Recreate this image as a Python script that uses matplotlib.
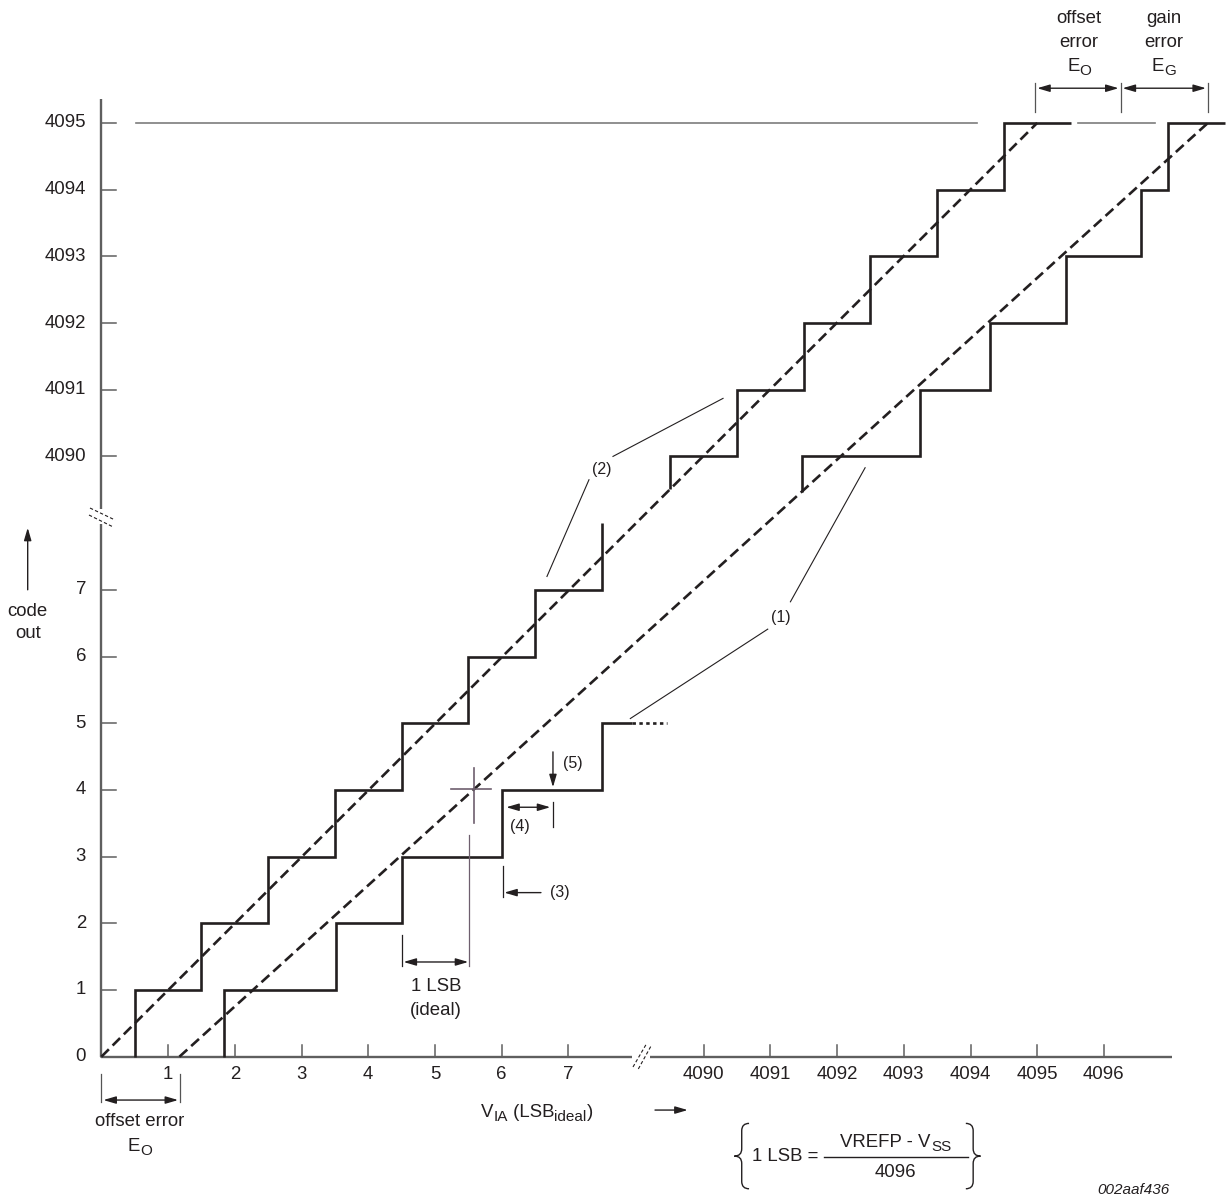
import numpy as np
import matplotlib
matplotlib.use("Agg")
import matplotlib.pyplot as plt
from matplotlib.path import Path
from matplotlib.patches import PathPatch
from matplotlib.transforms import ScaledTranslation

# ---------------- data (LSB input, output code) ----------------
y_ticks_low = [0, 1, 2, 3, 4, 5, 6, 7]
y_ticks_high = [4090, 4091, 4092, 4093, 4094, 4095]
x_ticks_low = [1, 2, 3, 4, 5, 6, 7]
x_ticks_high = [4090, 4091, 4092, 4093, 4094, 4095, 4096]

# ideal transfer curve (2)
ideal_trans_low = [0.5, 1.5, 2.5, 3.5, 4.5, 5.5, 6.5, 7.5]
ideal_levels_low = [1, 2, 3, 4, 5, 6, 7, 8.0]
ideal_trans_high = [4089.5, 4090.5, 4091.5, 4092.5, 4093.5, 4094.5]
ideal_levels_high = [4090, 4091, 4092, 4093, 4094, 4095]
ideal_end_high = 4095.5

# actual transfer curve (1)
actual_trans_low = [1.84, 3.52, 4.5, 6.0, 7.5]
actual_levels_low = [1, 2, 3, 4, 5]
actual_end_low = 7.95
actual_dotted_end = 8.48
actual_trans_high = [4091.47, 4093.24, 4094.29, 4095.43, 4096.56, 4096.96]
actual_levels_high = [4090, 4091, 4092, 4093, 4094, 4095]
actual_end_high = 4097.82

# straight dashed reference lines (start, end) in (LSB, code)
ideal_line = [(0.0, 0.0), (4095.0, 4095.0)]
actual_line = [(1.17, 0.0), (4097.56, 4095.0)]

# ---------------- axis-break transform ----------------
XOFF = 4080.97
YOFF = 4081.0


def ux(x):
    x = np.asarray(x, dtype=float)
    return np.where(x > 1000, x - XOFF, x)


def vy(c):
    c = np.asarray(c, dtype=float)
    return np.where(c > 1000, c - YOFF, c)


plt.rcParams['font.family'] = ['Liberation Sans', 'DejaVu Sans']

S = 66.7
X0, Y0 = 101.4, 1056.7
W, H = 1228, 1201
DPI = 100
fig = plt.figure(figsize=(W / DPI, H / DPI), dpi=DPI)
ax = fig.add_axes([0, 0, 1, 1])
ax.set_xlim(-X0 / S, (W - X0) / S)
ax.set_ylim((Y0 - H) / S, Y0 / S)
ax.axis('off')

INK = '#231f20'
AXC = '#5f5f5f'
FS = 13.4
FSS = 11.5

# ---------------- axes ----------------
ax.plot([0, 0], [0, 7.99], color=AXC, lw=1.7, solid_capstyle='butt')
ax.plot([0, 0], [8.21, 14.36], color=AXC, lw=1.7, solid_capstyle='butt')
ax.plot([0, 7.95], [0, 0], color=AXC, lw=1.7, solid_capstyle='butt')
ax.plot([8.22, 16.05], [0, 0], color=AXC, lw=1.7, solid_capstyle='butt')
# break marks
for (a, b) in [((-0.171, 8.226), (0.205, 8.046)), ((-0.186, 8.121), (0.169, 7.946))]:
    ax.plot([a[0], b[0]], [a[1], b[1]], color=INK, lw=0.8, ls=(0, (3, 2)))
for (a, b) in [((7.97, -0.154), (8.17, 0.19)), ((8.05, -0.184), (8.24, 0.16))]:
    ax.plot([a[0], b[0]], [a[1], b[1]], color=INK, lw=0.8, ls=(0, (3, 2)))

# y ticks
for c in y_ticks_low + y_ticks_high:
    v = float(vy(c))
    ax.plot([0, 0.225], [v, v], color=AXC, lw=1.1)
    ax.text(-0.23, v, str(c), ha='right', va='center', fontsize=FS, color=INK)
# x ticks
for x in x_ticks_low + x_ticks_high:
    u = float(ux(x))
    ax.plot([u, u], [0, 0.18], color=AXC, lw=1.1)
    ax.text(u, -0.27, str(x), ha='center', va='center', fontsize=FS, color=INK)

# ---------------- reference line at code 4095 ----------------
v95 = float(vy(4095))
ax.plot([0.52, 13.13], [v95, v95], color='#7d7d7d', lw=1.2)
ax.plot([14.64, 15.8], [v95, v95], color='#7d7d7d', lw=1.2)


# ---------------- dashed straight lines ----------------
def line_pts(ln):
    (x1, c1), (x2, c2) = ln
    return [float(ux(x1)), float(ux(x2))], [float(vy(c1)), float(vy(c2))]


def line_v(ln, u):
    us, vs = line_pts(ln)
    return vs[0] + (vs[1] - vs[0]) * (u - us[0]) / (us[1] - us[0])


for ln in (ideal_line, actual_line):
    us, vs = line_pts(ln)
    ax.plot(us, vs, color=INK, lw=1.9, ls=(0, (4, 2)), dash_capstyle='butt')


# ---------------- staircases ----------------
def stair(trans, levels, start_level, end_x):
    t = [float(a) for a in ux(trans)]
    L = [float(a) for a in vy(levels)]
    xs, ys = [t[0]], [start_level]
    for i in range(len(t)):
        xs.append(t[i]); ys.append(L[i])
        if i + 1 < len(t):
            xs.append(t[i + 1]); ys.append(L[i])
    if end_x is not None:
        xs.append(float(ux(end_x))); ys.append(L[-1])
    ax.plot(xs, ys, color=INK, lw=1.9, solid_joinstyle='miter', solid_capstyle='butt')


stair(ideal_trans_low, ideal_levels_low, 0.0, None)
stair(actual_trans_low, actual_levels_low, 0.0, actual_end_low)
ax.plot([float(ux(actual_end_low)), float(ux(actual_dotted_end))],
        [float(vy(actual_levels_low[-1]))] * 2, color=INK, lw=1.9, ls=(0, (1.3, 1.3)))
stair(ideal_trans_high, ideal_levels_high,
      line_v(ideal_line, float(ux(ideal_trans_high[0]))), ideal_end_high)
stair(actual_trans_high, actual_levels_high,
      line_v(actual_line, float(ux(actual_trans_high[0]))), actual_end_high)

# ---------------- annotations ----------------
AP = dict(color=INK, lw=1.0, shrinkA=0, shrinkB=0, mutation_scale=10)


def arrow(p_from, p_to, style='-|>'):
    ax.annotate('', xy=p_to, xytext=p_from,
                arrowprops=dict(arrowstyle=style + ',head_length=0.75,head_width=0.22', **AP))


def seg(p, q, lw=0.9, color=INK):
    ax.plot([p[0], q[0]], [p[1], q[1]], color=color, lw=lw)


renderer = fig.canvas.get_renderer()


def rich(x, yc, pieces, fs=FS, sub_scale=0.82, sub_drop=4.0):
    """Text with real subscripts, centred horizontally at x, cap-centred at yc."""
    yb = yc - 0.1
    items = []
    for s, is_sub in pieces:
        size = fs * sub_scale if is_sub else fs
        t = ax.text(x, yb, s, fontsize=size, ha='left', va='baseline', color=INK)
        w = t.get_window_extent(renderer).width
        items.append((t, w, is_sub))
    total = sum(w for _, w, _ in items)
    cur = -total / 2
    for t, w, is_sub in items:
        dy = -sub_drop if is_sub else 0.0
        t.set_transform(ax.transData + ScaledTranslation(cur / DPI, dy / DPI, fig.dpi_scale_trans))
        cur += w


# top: offset error / gain error
for u in (13.995, 15.28, 16.59):
    seg((u, 14.16), (u, 14.6), lw=0.9, color='#555555')
arrow((14.03, 14.52), (15.25, 14.52), '<|-|>')
arrow((15.31, 14.52), (16.56, 14.52), '<|-|>')
ax.text(14.66, 15.56, 'offset', ha='center', va='center', fontsize=FS, color=INK)
ax.text(14.66, 15.21, 'error', ha='center', va='center', fontsize=FS, color=INK)
rich(14.66, 14.88, [('E', False), ('O', True)])
ax.text(15.93, 15.56, 'gain', ha='center', va='center', fontsize=FS, color=INK)
ax.text(15.93, 15.21, 'error', ha='center', va='center', fontsize=FS, color=INK)
rich(15.93, 14.88, [('E', False), ('G', True)])

# bottom-left offset error
seg((0.0, -0.26), (0.0, -0.68), color='#555555')
seg((1.18, -0.26), (1.18, -0.68), color='#555555')
arrow((0.03, -0.65), (1.15, -0.65), '<|-|>')
ax.text(0.58, -0.975, 'offset error', ha='center', va='center', fontsize=FS, color=INK)
rich(0.58, -1.32, [('E', False), ('O', True)])

# code out
arrow((-1.105, 7.0), (-1.105, 7.93))
ax.text(-1.105, 6.67, 'code', ha='center', va='center', fontsize=FS, color=INK)
ax.text(-1.105, 6.35, 'out', ha='center', va='center', fontsize=FS, color=INK)

# V_IA label
rich(6.53, -0.8, [('V', False), ('IA', True), (' (LSB', False), ('ideal', True), (')', False)])
arrow((8.30, -0.8), (8.79, -0.8))

# crosshair at step centre
CH = '#6e5f6e'
seg((5.24, 4.01), (5.84, 4.01), lw=1.2, color=CH)
seg((5.59, 4.33), (5.59, 3.50), lw=1.2, color=CH)
seg((5.51, 3.32), (5.51, 1.36), lw=0.9, color=CH)

# 1 LSB (ideal)
seg((4.51, 1.82), (4.51, 1.36))
arrow((4.53, 1.42), (5.50, 1.42), '<|-|>')
ax.text(5.02, 1.05, '1 LSB', ha='center', va='center', fontsize=FS, color=INK)
ax.text(5.02, 0.70, '(ideal)', ha='center', va='center', fontsize=FS, color=INK)

# (5)
arrow((6.77, 4.57), (6.77, 4.04))
ax.text(7.07, 4.40, '(5)', ha='center', va='center', fontsize=FSS, color=INK)
# (4)
arrow((6.07, 3.74), (6.73, 3.74), '<|-|>')
seg((6.77, 3.82), (6.77, 3.45))
ax.text(6.28, 3.45, '(4)', ha='center', va='center', fontsize=FSS, color=INK)
# (3)
seg((6.02, 2.86), (6.02, 2.39))
arrow((6.59, 2.46), (6.04, 2.46))
ax.text(6.87, 2.46, '(3)', ha='center', va='center', fontsize=FSS, color=INK)
# (2)
ax.text(7.50, 8.81, '(2)', ha='center', va='center', fontsize=FSS, color=INK)
seg((7.67, 9.0), (9.32, 9.87), lw=0.8)
seg((7.31, 8.65), (6.68, 7.20), lw=0.8)
# (1)
ax.text(10.19, 6.58, '(1)', ha='center', va='center', fontsize=FSS, color=INK)
seg((10.33, 6.82), (11.45, 8.83), lw=0.8)
seg((9.99, 6.41), (7.93, 5.07), lw=0.8)


# ---------------- formula ----------------
def brace(xc, yc, h, w, left=True):
    s = 1 if left else -1
    x0 = xc
    xe = xc + s * w / 2
    xt = xc - s * w / 2
    top, bot, r = yc + h / 2, yc - h / 2, w / 2
    verts = [(xe, top), (x0, top), (x0, top - r), (x0, yc + r), (x0, yc), (xt, yc),
             (x0, yc), (x0, yc - r), (x0, bot + r), (x0, bot), (xe, bot)]
    codes = [Path.MOVETO, Path.CURVE3, Path.CURVE3, Path.LINETO, Path.CURVE3, Path.CURVE3,
             Path.CURVE3, Path.CURVE3, Path.LINETO, Path.CURVE3, Path.CURVE3]
    ax.add_patch(PathPatch(Path(verts, codes), fill=False, edgecolor=INK, lw=1.0))


brace(9.6, -1.49, 0.98, 0.22, left=True)
brace(13.07, -1.49, 0.98, 0.22, left=False)
ax.text(10.25, -1.49, '1 LSB =', ha='center', va='center', fontsize=FS, color=INK)
seg((10.83, -1.50), (12.99, -1.50), lw=1.0)
rich(11.91, -1.25, [('VREFP - V', False), ('SS', True)])
ax.text(11.91, -1.74, '4096', ha='center', va='center', fontsize=FS, color=INK)
ax.text(15.48, -2.0, '002aaf436', ha='center', va='center', fontsize=11, style='italic',
        color=INK)

fig.savefig('out.png', dpi=DPI)
